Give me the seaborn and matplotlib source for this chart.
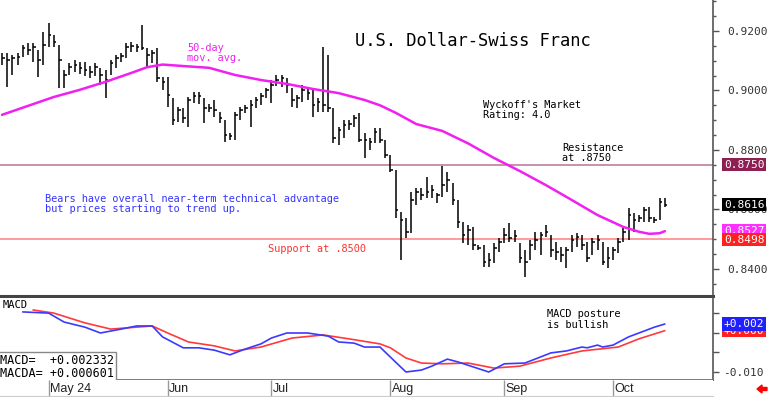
import numpy as np
import pandas as pd
import matplotlib
matplotlib.use('Agg')
import matplotlib.pyplot as plt
import matplotlib.transforms as mtransforms
from matplotlib.patches import FancyArrow
import seaborn as sns

# Daily bars USD/CHF, 18 Apr - 15 Oct 2024
high = [0.9126, 0.9126, 0.9119, 0.9126, 0.9153, 0.9160, 0.9160, 0.9136, 0.9197, 0.9227,
        0.9187, 0.9153, 0.9069, 0.9092, 0.9102, 0.9096, 0.9096, 0.9082, 0.9092, 0.9076,
        0.9069, 0.9102, 0.9119, 0.9126, 0.9160, 0.9163, 0.9156, 0.9220, 0.9143, 0.9136,
        0.9143, 0.9045, 0.9045, 0.8975, 0.8945, 0.8941, 0.8978, 0.8995, 0.8995, 0.8975,
        0.8955, 0.8968, 0.8928, 0.8901, 0.8857, 0.8928, 0.8945, 0.8951, 0.8968, 0.8978,
        0.8992, 0.9008, 0.9035, 0.9052, 0.9052, 0.9042, 0.9008, 0.8985, 0.9018, 0.9008,
        0.9008, 0.8975, 0.9146, 0.9119, 0.8941, 0.8877, 0.8901, 0.8901, 0.8918, 0.8924,
        0.8857, 0.8840, 0.8874, 0.8874, 0.8834, 0.8783, 0.8733, 0.8592, 0.8571, 0.8659,
        0.8672, 0.8672, 0.8709, 0.8682, 0.8656, 0.8746, 0.8726, 0.8689, 0.8632, 0.8558,
        0.8548, 0.8541, 0.8481, 0.8481, 0.8454, 0.8487, 0.8504, 0.8538, 0.8555, 0.8531,
        0.8487, 0.8464, 0.8497, 0.8524, 0.8524, 0.8548, 0.8514, 0.8491, 0.8474, 0.8474,
        0.8514, 0.8521, 0.8514, 0.8491, 0.8504, 0.8514, 0.8491, 0.8474, 0.8474, 0.8504,
        0.8538, 0.8605, 0.8588, 0.8581, 0.8608, 0.8608, 0.8575, 0.8639, 0.8639]
low = [0.9086, 0.9012, 0.9052, 0.9086, 0.9113, 0.9119, 0.9096, 0.9045, 0.9086, 0.9146,
       0.9146, 0.9008, 0.9008, 0.9052, 0.9062, 0.9056, 0.9049, 0.9042, 0.9049, 0.9018,
       0.8975, 0.9052, 0.9076, 0.9096, 0.9109, 0.9129, 0.9129, 0.9136, 0.9079, 0.9092,
       0.9029, 0.9002, 0.8945, 0.8884, 0.8894, 0.8891, 0.8877, 0.8958, 0.8955, 0.8891,
       0.8928, 0.8911, 0.8891, 0.8827, 0.8834, 0.8834, 0.8901, 0.8924, 0.8877, 0.8941,
       0.8951, 0.8975, 0.8958, 0.9015, 0.9012, 0.8992, 0.8945, 0.8941, 0.8961, 0.8968,
       0.8911, 0.8928, 0.8928, 0.8928, 0.8824, 0.8817, 0.8840, 0.8867, 0.8877, 0.8827,
       0.8773, 0.8800, 0.8824, 0.8824, 0.8773, 0.8726, 0.8571, 0.8430, 0.8504, 0.8521,
       0.8615, 0.8632, 0.8639, 0.8639, 0.8622, 0.8642, 0.8659, 0.8615, 0.8538, 0.8487,
       0.8481, 0.8464, 0.8464, 0.8407, 0.8407, 0.8420, 0.8457, 0.8487, 0.8491, 0.8491,
       0.8420, 0.8373, 0.8430, 0.8464, 0.8447, 0.8508, 0.8440, 0.8430, 0.8424, 0.8403,
       0.8457, 0.8474, 0.8464, 0.8424, 0.8447, 0.8464, 0.8414, 0.8403, 0.8430, 0.8454,
       0.8491, 0.8497, 0.8524, 0.8558, 0.8558, 0.8558, 0.8555, 0.8565, 0.8608]
close = [0.9109, 0.9102, 0.9109, 0.9113, 0.9143, 0.9136, 0.9146, 0.9102, 0.9153, 0.9187,
         0.9163, 0.9102, 0.9052, 0.9079, 0.9086, 0.9076, 0.9069, 0.9062, 0.9079, 0.9052,
         0.9035, 0.9092, 0.9109, 0.9116, 0.9146, 0.9150, 0.9146, 0.9143, 0.9119, 0.9126,
         0.9042, 0.9029, 0.8985, 0.8901, 0.8934, 0.8908, 0.8968, 0.8981, 0.8981, 0.8941,
         0.8941, 0.8934, 0.8908, 0.8850, 0.8847, 0.8918, 0.8934, 0.8941, 0.8951, 0.8968,
         0.8981, 0.9002, 0.9018, 0.9035, 0.9042, 0.9018, 0.8968, 0.8975, 0.9002, 0.8992,
         0.8951, 0.8961, 0.8951, 0.8941, 0.8840, 0.8867, 0.8884, 0.8887, 0.8908, 0.8834,
         0.8834, 0.8827, 0.8860, 0.8834, 0.8783, 0.8733, 0.8598, 0.8565, 0.8524, 0.8632,
         0.8659, 0.8649, 0.8659, 0.8666, 0.8649, 0.8682, 0.8699, 0.8632, 0.8558, 0.8514,
         0.8531, 0.8481, 0.8471, 0.8424, 0.8430, 0.8471, 0.8491, 0.8514, 0.8504, 0.8511,
         0.8437, 0.8424, 0.8481, 0.8497, 0.8514, 0.8524, 0.8464, 0.8457, 0.8447, 0.8464,
         0.8497, 0.8508, 0.8481, 0.8437, 0.8491, 0.8497, 0.8424, 0.8437, 0.8464, 0.8491,
         0.8524, 0.8581, 0.8565, 0.8571, 0.8598, 0.8571, 0.8565, 0.8625, 0.8616]

# 50-day moving average (bar index, value)
ma_idx = [0, 5, 10, 15, 20, 25, 28, 31, 35, 40, 45, 50, 55, 60, 65, 70, 73, 76, 80,
          85, 90, 95, 100, 105, 110, 115, 120, 123, 125, 127, 128]
ma_val = [0.8918, 0.8948, 0.8978, 0.9002, 0.9029, 0.9059, 0.9078, 0.9087, 0.9082,
          0.9076, 0.9052, 0.9035, 0.9022, 0.9005, 0.8991, 0.8968, 0.8950, 0.8925,
          0.8887, 0.8864, 0.8822, 0.8773, 0.8729, 0.8682, 0.8632, 0.8581, 0.8541,
          0.8525, 0.8518, 0.8520, 0.8527]

# MACD (blue) and signal line (red)
macd_idx = [4, 9, 12, 16, 19, 23, 26, 29, 31, 35, 38, 41, 44, 47, 50, 52, 55, 59, 63, 65,
            68, 70, 73, 74, 78, 81, 83, 86, 88, 91, 94, 97, 101, 106, 109, 112, 113,
            115, 116, 118, 121, 124, 126, 128]
macd_val = [0.0054, 0.0051, 0.0028, 0.0015, 0.0000, 0.0010, 0.0018, 0.0018, -0.0010,
            -0.0038, -0.0038, -0.0044, -0.0056, -0.0041, -0.0028, -0.0013, 0.0000,
            0.0000, -0.0008, -0.0023, -0.0026, -0.0036, -0.0036, -0.0049, -0.0100,
            -0.0095, -0.0085, -0.0067, -0.0074, -0.0087, -0.0100, -0.0079, -0.0077,
            -0.0051, -0.0046, -0.0036, -0.0038, -0.0031, -0.0036, -0.0031, -0.0010,
            0.0005, 0.0015, 0.0023]
signal_idx = [6, 10, 16, 21, 24, 29, 32, 36, 41, 45, 50, 56, 62, 67, 73, 75, 78, 81, 85,
              90, 95, 100, 106, 112, 119, 123, 128]
signal_val = [0.0059, 0.0051, 0.0026, 0.0010, 0.0013, 0.0018, 0.0000, -0.0023, -0.0033,
              -0.0046, -0.0036, -0.0013, -0.0005, -0.0015, -0.0028, -0.0038, -0.0064,
              -0.0077, -0.0079, -0.0077, -0.0090, -0.0085, -0.0064, -0.0046, -0.0036,
              -0.0015, 0.0006]

month_labels = ['May 24', 'Jun', 'Jul', 'Aug', 'Sep', 'Oct']
resistance = 0.8750
support = 0.8500
last_close = 0.8616
last_ma = 0.8527
macd_last = 0.002332
macda_last = 0.000601

dates = pd.bdate_range('2024-04-18', periods=len(close))
x = np.arange(len(close))
month_pos = [i for i in range(1, len(dates)) if dates[i].month != dates[i - 1].month]

sns.set_style('white')
plt.rcParams['font.family'] = ['DejaVu Sans Mono', 'DejaVu Sans']

W, H = 768, 397
def fx(px):
    return px / W
def fy(py):
    return 1 - py / H

fig = plt.figure(figsize=(W / 100, H / 100), dpi=100)
ax = fig.add_axes([0, fy(296), fx(713), 296 / H])
axm = fig.add_axes([0, fy(380), fx(713), (380 - 298) / H])
axd = fig.add_axes([0, fy(396), fx(713), 16 / H])

xlim = (-0.39, 137.3)
lab_size = 8.0

# ---- price panel
ax.vlines(x, low, high, color='black', lw=1.1)
ax.hlines(close, x, x + 0.5, color='black', lw=1.1)
sns.lineplot(x=ma_idx, y=ma_val, ax=ax, color='#f020f0', lw=1.8, legend=False)
ax.axhline(resistance, color='#c890aa', lw=1.4, zorder=1)
ax.axhline(support, color='#ff9a9a', lw=1.4, zorder=1)
ax.set_xlim(*xlim)
ax.set_ylim(0.8309, 0.9304)
ax.set_xticks([])
ax.yaxis.tick_right()
ax.set_yticks([0.84, 0.86, 0.88, 0.90, 0.92])
ax.set_yticklabels(['0.8400', '0.8600', '0.8800', '0.9000', '0.9200'])
ax.set_yticks(np.arange(0.835, 0.93, 0.005), minor=True)
ax.tick_params(axis='y', which='major', length=4, width=1, color='#555',
               labelsize=lab_size, pad=6, labelcolor='#333')
ax.tick_params(axis='y', which='minor', length=2, width=1, color='#555')
ax.set_xlabel('')
ax.set_ylabel('')
for s in ['top', 'left']:
    ax.spines[s].set_visible(False)
ax.spines['right'].set_color('#555')
ax.spines['right'].set_linewidth(1.2)
ax.spines['bottom'].set_color('#444')
ax.spines['bottom'].set_linewidth(2.2)

tr = mtransforms.blended_transform_factory(ax.transAxes, ax.transData)
box_x = 1 + 11 / 713
for val, fc in [(resistance, '#8e1f52'), (last_close, 'black'),
                (last_ma, '#ff30ff'), (support - 0.0002, '#ff2020')]:
    ax.text(box_x, val, f'{val:.4f}', transform=tr, ha='left', va='center',
            fontsize=lab_size, color='white', clip_on=False,
            bbox=dict(boxstyle='square,pad=0.15', fc=fc, ec='none'))

# ---- MACD panel
sns.lineplot(x=signal_idx, y=signal_val, ax=axm, color='#ff3a3a', lw=1.2, legend=False)
sns.lineplot(x=macd_idx, y=macd_val, ax=axm, color='#3a3aff', lw=1.2, legend=False)
axm.set_xlim(*xlim)
axm.set_ylim(-0.01205, 0.00897)
axm.set_xticks([])
axm.yaxis.tick_right()
axm.set_yticks([-0.010, -0.005, 0.0, 0.005])
axm.set_yticklabels(['-0.010', '', '', ''])
axm.tick_params(axis='y', length=4, width=1, color='#555', labelsize=lab_size, pad=3,
                labelcolor='#333')
axm.set_xlabel('')
axm.set_ylabel('')
for s in ['top', 'left']:
    axm.spines[s].set_visible(False)
axm.spines['right'].set_color('#555')
axm.spines['right'].set_linewidth(1.2)
axm.spines['bottom'].set_color('#666')
axm.spines['bottom'].set_linewidth(1.2)

trm = mtransforms.blended_transform_factory(axm.transAxes, axm.transData)
axm.text(box_x, macda_last, '+0.000', transform=trm,
         ha='left', va='center', fontsize=lab_size, color='white', clip_on=False,
         bbox=dict(boxstyle='square,pad=0.15', fc='#ff2020', ec='none'))
axm.text(box_x, macd_last, f'{macd_last:+.3f}', transform=trm, ha='left', va='center',
         fontsize=lab_size, color='white', clip_on=False,
         bbox=dict(boxstyle='square,pad=0.15', fc='#2020ff', ec='none'))

axm.text(0.003, 0.97, 'MACD', transform=axm.transAxes, ha='left', va='top',
         fontsize=7.5, color='black')
axm.text(0.0, 0.0, f'MACD=  {macd_last:+.6f}\nMACDA= {macda_last:+.6f}',
         transform=axm.transAxes, ha='left', va='bottom', fontsize=8.5,
         linespacing=1.0, color='black',
         bbox=dict(boxstyle='square,pad=0.15', fc='white', ec='#888', lw=1))
axm.text(fx(547) / fx(713), 0.86, 'MACD posture\nis bullish', transform=axm.transAxes,
         ha='left', va='top', fontsize=7.4, linespacing=1.05, color='black')

# ---- month strip
axd.set_xlim(*xlim)
axd.set_ylim(0, 1)
axd.vlines(month_pos, 0, 1, color='#999', lw=1)
for pos, lab in zip(month_pos, month_labels):
    axd.text(pos + 0.25, 0.45, lab, ha='left', va='center', fontsize=9,
             family='Liberation Sans', color='#222')
axd.set_xticks([])
axd.set_yticks([])
for s in ['top', 'left', 'right']:
    axd.spines[s].set_visible(False)
axd.spines['bottom'].set_color('#ccc')

# ---- annotations
fig.text(fx(355), fy(41), 'U.S. Dollar-Swiss Franc', fontsize=12.3, va='center',
         ha='left', color='black')
fig.text(fx(187), fy(43), '50-day\nmov. avg.', fontsize=7.4, va='top', ha='left',
         color='#f020f0', linespacing=1.05)
fig.text(fx(483), fy(100), "Wyckoff's Market\nRating: 4.0", fontsize=7.4, va='top',
         ha='left', color='black', linespacing=1.05)
fig.text(fx(562), fy(143), 'Resistance\nat .8750', fontsize=7.4, va='top', ha='left',
         color='black', linespacing=1.05)
fig.text(fx(45), fy(194), 'Bears have overall near-term technical advantage\n'
         'but prices starting to trend up.', fontsize=7.4, va='top', ha='left',
         color='#3535ff', linespacing=1.05)
fig.text(fx(268), fy(249), 'Support at .8500', fontsize=7.4, va='center', ha='left',
         color='#ff3030')

fig.patches.append(FancyArrow(fx(767), fy(389), -10 / W, 0, width=3 / H,
                              head_width=8 / H, head_length=5 / W,
                              length_includes_head=True, color='red',
                              transform=fig.transFigure, figure=fig))

fig.savefig('out.png', dpi=100)
